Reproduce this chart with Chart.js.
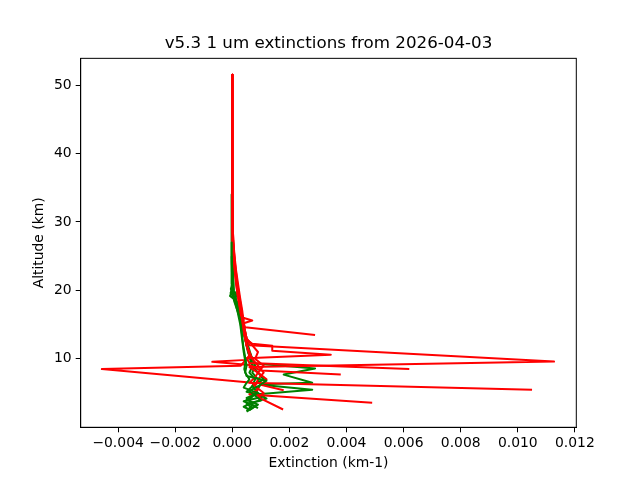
<!DOCTYPE html>
<html lang="en">
<head>
  <meta charset="UTF-8" />
  <title>v5.3 1 um extinctions</title>
  <script src="https://cdn.jsdelivr.net/npm/chart.js"></script>
  <style>
    body { margin: 0; background: #fff; }
    canvas { display: block; }
  </style>
</head>
<body>
  <canvas id="chart" width="640" height="480"></canvas>

  <script>
    // tick positions
    const xTicks = [-0.004, -0.002, 0.000, 0.002, 0.004, 0.006, 0.008, 0.010, 0.012];
    const yTicks = [10, 20, 30, 40, 50];

    // red profiles (altitude km, extinction km-1)
    const redAlt1 = [51.5, 45, 40, 35, 30, 27, 25, 23, 21, 19, 17, 16, 15.6, 15.2, 14.6, 13.5];
    const redExt1 = [0, 0, 0, 0.000005, 0.00001, 0.00003, 0.00006, 0.0001, 0.00015, 0.00022, 0.0003, 0.00038, 0.0007, 0.0004, 0.00045, 0.0029];

    const redAlt2 = [51.5, 45, 40, 35, 30, 27, 25, 23, 21, 19, 17, 16, 15, 14, 13, 12, 9.6, 8.8, 8.0, 7.3, 6.5, 5.5];
    const redExt2 = [0, 0, 0, 0.000005, 0.00002, 0.00004, 0.00008, 0.00013, 0.0002, 0.00027, 0.00035, 0.00038, 0.0004, 0.00045, 0.0005, 0.0006, 0.01127, 0.0006, 0.0009, 0.0008, 0.0006, 0.0105];

    const redAlt3 = [51.5, 45, 40, 35, 30, 27, 25, 23, 21, 19, 17, 16, 14, 12, 10.5, 9.0, 8.5, 6.5, 5.5, 4.8, 3.6];
    const redExt3 = [0, 0, 0, 0, 0.00001, 0.00002, 0.00005, 0.00009, 0.00014, 0.0002, 0.0003, 0.0003, 0.0004, 0.0005, 0.0006, 0.0003, -0.00457, 0.0007, 0.0009, 0.0006, 0.0049];

    const redAlt4 = [51.5, 45, 40, 35, 30, 27, 25, 23, 21, 19, 17, 16, 14.5, 13, 12.2, 11.9, 11.2, 10.6, 10.1, 9.4, 8.5];
    const redExt4 = [0, 0, 0, 0.000005, 0.00001, 0.00003, 0.00007, 0.00012, 0.00018, 0.00025, 0.00033, 0.00036, 0.0004, 0.00045, 0.0007, 0.0014, 0.0014, 0.00345, 0.0005, 0.0006, 0.0062];

    const redAlt5 = [51.5, 45, 40, 35, 30, 27, 25, 23, 21, 19, 17, 16, 14, 12, 11, 10.2, 9.85, 9.56, 9.1, 8.3, 7.7];
    const redExt5 = [0, 0, 0, 0, 0.00001, 0.00002, 0.00004, 0.00008, 0.00013, 0.0002, 0.00028, 0.0003, 0.0004, 0.0005, 0.0006, 0.0006, 0.0005, -0.0007, 0.0006, 0.001, 0.0038];

    const redAlt6 = [51.5, 45, 40, 35, 30, 27, 25, 23, 21, 19, 17, 16, 14, 12, 10, 9, 8, 7, 6, 5, 4.4, 2.6];
    const redExt6 = [0, 0, 0, 0.000005, 0.00002, 0.00004, 0.00007, 0.00011, 0.00016, 0.00023, 0.0003, 0.00034, 0.00042, 0.0005, 0.0007, 0.0009, 0.0011, 0.0009, 0.0008, 0.0011, 0.0009, 0.00178];

    const redAlt7 = [51.5, 45, 40, 35, 30, 27, 25, 23, 21, 19, 17, 16, 13, 11, 10, 9, 8, 7, 6.2, 5.4];
    const redExt7 = [0, 0, 0, 0, 0.00001, 0.00003, 0.00006, 0.0001, 0.00016, 0.00024, 0.00032, 0.00034, 0.0005, 0.0009, 0.0008, 0.0011, 0.0009, 0.0012, 0.001, 0.0018];

    // green profiles
    const grnAlt1 = [34, 30, 26, 23, 21, 20, 19.2, 18.6, 18, 17, 16, 15, 14, 13, 12, 11, 10, 9.4, 8.6, 7.7, 6.5, 6.3, 5.0, 4.0, 3.2, 2.4];
    const grnExt1 = [-0.00002, -0.00003, -0.00003, -0.00002, -0.00002, 0.00001, -0.00008, 0.0001, 0.00015, 0.00022, 0.0003, 0.00037, 0.00042, 0.00047, 0.00052, 0.0006, 0.0007, 0.0006, 0.0029, 0.0018, 0.0028, 0.001, 0.0008, 0.0006, 0.0007, 0.0005];

    const grnAlt2 = [33, 29, 25, 22, 20.5, 19.6, 19, 18.3, 17, 16, 15, 14, 13, 12, 11, 10, 9, 8, 7, 6.2, 5.5, 4.8, 4.0, 3.3, 2.3];
    const grnExt2 = [0, -0.00001, 0, 0.00002, 0.00001, -0.00006, 0.00005, 0.00018, 0.00025, 0.00032, 0.0004, 0.00045, 0.0005, 0.00055, 0.00062, 0.0007, 0.0008, 0.0007, 0.0009, 0.001, 0.0028, 0.0008, 0.0005, 0.0009, 0.0005];

    const grnAlt3 = [32, 28, 24, 21, 20, 19.4, 18.8, 18, 17, 15, 13, 11, 10, 9, 8, 7, 6, 5.2, 4.5, 3.8, 3.1, 2.5];
    const grnExt3 = [0, 0, 0.00002, 0.00003, 0.00002, 0.00018, 0.00008, 0.0002, 0.00024, 0.00034, 0.00044, 0.00055, 0.00065, 0.00072, 0.0006, 0.0008, 0.0007, 0.0005, 0.0011, 0.0004, 0.0008, 0.0006];

    const grnAlt4 = [30, 26, 22, 20, 19, 18, 16, 14, 12, 10, 9, 8, 7, 6, 5, 4.2, 3.5, 2.8];
    const grnExt4 = [0, 0.00001, 0.00003, 0.00006, 0.00012, 0.00016, 0.00028, 0.0004, 0.0005, 0.00062, 0.0007, 0.0009, 0.0011, 0.0007, 0.0009, 0.0012, 0.0006, 0.0009];

    const grnAlt5 = [27, 24, 21, 20.2, 19.5, 18.5, 17.5, 16, 14, 12, 11, 10, 9, 8, 7, 6.5, 5.8, 5.0, 4.3, 3.6, 3.0, 2.6];
    const grnExt5 = [-0.00002, -0.00002, 0, -0.00005, 0.00003, 0.00006, 0.00014, 0.00026, 0.00033, 0.00038, 0.00042, 0.00046, 0.0005, 0.00045, 0.0006, 0.0005, 0.0004, 0.0009, 0.0005, 0.0007, 0.0004, 0.0006];

    const grnAlt6 = [25, 22, 20, 18.5, 17, 15, 13, 11, 9.5, 8.5, 7.5, 6.8, 6.0, 5.3, 4.6, 3.9, 3.4, 2.9];
    const grnExt6 = [-0.00002, 0, 0.00002, 0.00009, 0.00018, 0.00028, 0.00034, 0.0004, 0.00046, 0.00042, 0.0005, 0.0012, 0.0009, 0.0006, 0.0008, 0.0010, 0.0005, 0.0007];

    const greenTop = [[grnAlt5, grnExt5], [grnAlt6, grnExt6]];
    const redProfiles = [
      [redAlt1, redExt1], [redAlt2, redExt2], [redAlt3, redExt3], [redAlt4, redExt4],
      [redAlt5, redExt5], [redAlt6, redExt6], [redAlt7, redExt7]
    ];
    const greenProfiles = [
      [grnAlt1, grnExt1], [grnAlt2, grnExt2], [grnAlt3, grnExt3], [grnAlt4, grnExt4]
    ];

    const font = { family: 'DejaVu Sans', size: 13.9 };

    function toDataset(profile, color) {
      const [alt, ext] = profile;
      return {
        data: alt.map((a, i) => ({ x: ext[i], y: a })),
        showLine: true,
        borderColor: color,
        backgroundColor: color,
        borderWidth: 2,
        borderJoinStyle: 'round',
        pointRadius: 0,
        tension: 0
      };
    }

    // earlier datasets are drawn on top
    const datasets = greenTop.map(p => toDataset(p, '#008000'))
      .concat(redProfiles.map(p => toDataset(p, '#ff0000')))
      .concat(greenProfiles.map(p => toDataset(p, '#008000')));

    const frame = {
      id: 'frame',
      afterDatasetsDraw(chart) {
        const a = chart.chartArea;
        const ctx = chart.ctx;
        ctx.save();
        ctx.strokeStyle = '#000';
        ctx.lineWidth = 1;
        ctx.strokeRect(a.left, a.top, a.right - a.left, a.bottom - a.top);
        ctx.restore();
      }
    };

    new Chart(document.getElementById('chart'), {
      type: 'scatter',
      data: { datasets },
      plugins: [frame],
      options: {
        responsive: false,
        animation: false,
        devicePixelRatio: 1,
        layout: { padding: { left: 0, right: 63.7, top: 0, bottom: 0 } },
        plugins: {
          legend: { display: false },
          tooltip: { enabled: false },
          title: {
            display: true,
            fullSize: false,
            text: 'v5.3 1 um extinctions from 2026-04-03',
            color: '#000',
            font: { family: 'DejaVu Sans', size: 16.7, weight: 'normal' },
            padding: { top: 34, bottom: 4.3 }
          }
        },
        scales: {
          x: {
            type: 'linear',
            min: -0.00531,
            max: 0.01205,
            afterBuildTicks: s => { s.ticks = xTicks.map(v => ({ value: v })); },
            afterFit: s => { s.height = 52.7; },
            ticks: {
              color: '#000',
              font,
              padding: 3,
              maxRotation: 0,
              autoSkip: false,
              callback: v => v.toFixed(3).replace('-', '\u2212')
            },
            grid: { drawOnChartArea: false, drawTicks: true, tickLength: 5, color: '#000' },
            border: { color: '#000' },
            title: { display: true, text: 'Extinction (km-1)', color: '#000', font, padding: { top: 4, bottom: 8.7 } }
          },
          y: {
            type: 'linear',
            min: 0,
            max: 53.9,
            afterBuildTicks: s => { s.ticks = yTicks.map(v => ({ value: v })); },
            afterFit: s => { s.width = 80.7; },
            ticks: { color: '#000', font, padding: 4, autoSkip: false },
            grid: { drawOnChartArea: false, drawTicks: true, tickLength: 5, color: '#000' },
            border: { color: '#000' },
            title: { display: true, text: 'Altitude (km)', color: '#000', font, padding: { top: 31, bottom: 0 } }
          }
        }
      }
    });
  </script>
</body>
</html>
